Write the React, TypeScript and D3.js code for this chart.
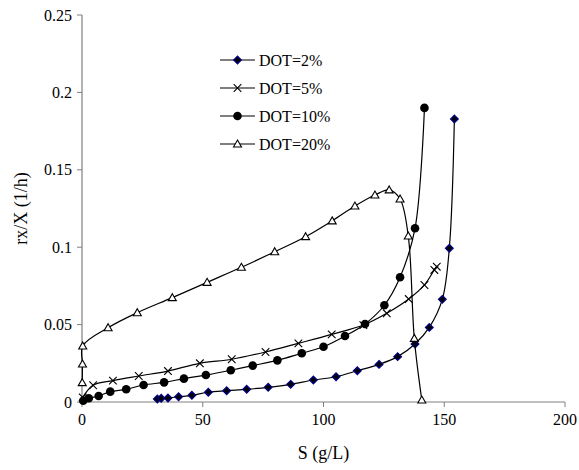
import React from "react";
import * as d3 from "d3";

const yTicks = [0, 0.05, 0.1, 0.15, 0.2, 0.25];
const yTickLabels = ["0", "0.05", "0.1", "0.15", "0.2", "0.25"];
const xTicks = [0, 50, 100, 150, 200];
const xTickLabels = ["0", "50", "100", "150", "200"];

const seriesNames = ["DOT=2%", "DOT=5%", "DOT=10%", "DOT=20%"];

const dot2S = [31.2, 32.8, 35.6, 40.0, 45.5, 52.3, 59.9, 68.2, 77.1, 86.4, 95.8, 105.2, 114.0, 123.0, 130.7, 137.9, 143.8, 149.2, 152.1, 154.2];
const dot2R = [0.0019, 0.0024, 0.0026, 0.0034, 0.0043, 0.0063, 0.0073, 0.0082, 0.0095, 0.0114, 0.0142, 0.0163, 0.0202, 0.0243, 0.0293, 0.0375, 0.0482, 0.0663, 0.0993, 0.1828];

const dot5S = [0.3, 4.6, 12.8, 23.5, 35.6, 48.8, 62.0, 76.0, 89.6, 103.4, 116.5, 126.2, 135.3, 141.8, 145.9, 146.9];
const dot5R = [0.003, 0.0108, 0.0138, 0.0168, 0.020, 0.025, 0.0276, 0.0323, 0.0379, 0.0437, 0.0497, 0.0573, 0.0665, 0.0756, 0.0853, 0.0874];

const dot10S = [0.5, 2.8, 6.9, 11.7, 18.3, 25.5, 34.0, 42.2, 51.3, 61.6, 70.7, 80.9, 91.0, 100.0, 108.9, 117.2, 125.2, 131.7, 137.9, 141.8];
const dot10R = [0.0008, 0.0024, 0.0039, 0.0067, 0.0082, 0.011, 0.0127, 0.0151, 0.0174, 0.0205, 0.0235, 0.0269, 0.0315, 0.0357, 0.0426, 0.0504, 0.0625, 0.0806, 0.1122, 0.19];

const dot20S = [0.1, 0.2, 0.3, 10.8, 22.9, 37.4, 51.8, 66.0, 79.8, 92.6, 103.6, 113.0, 121.3, 127.2, 131.7, 135.1, 137.6, 140.7];
const dot20R = [0.0125, 0.0245, 0.0362, 0.048, 0.0577, 0.0674, 0.0773, 0.087, 0.0971, 0.1068, 0.117, 0.1266, 0.1337, 0.137, 0.1311, 0.1072, 0.0411, 0.0013];

const FONT = "'Liberation Serif', 'Times New Roman', serif";
const W = 579, H = 470;
const x = d3.scaleLinear().domain([0, 200]).range([82, 565]);
const y = d3.scaleLinear().domain([0, 0.25]).range([402, 15]);

type Pt = [number, number];
const zip = (a: number[], b: number[]): Pt[] => a.map((v, i) => [v, b[i]]);

const seriesData: Pt[][] = [zip(dot2S, dot2R), zip(dot5S, dot5R), zip(dot10S, dot10R), zip(dot20S, dot20R)];
const markerKinds = ["diamond", "cross", "circle", "triangle"];

const line = d3
  .line<Pt>()
  .x((d) => x(d[0]))
  .y((d) => y(d[1]))
  .curve(d3.curveCatmullRom.alpha(0.5));

function Marker({ kind, cx, cy }: { kind: string; cx: number; cy: number }) {
  if (kind === "diamond") {
    const r = 3.8;
    return (
      <path
        d={`M${cx},${cy - r}L${cx + r},${cy}L${cx},${cy + r}L${cx - r},${cy}Z`}
        fill="#000000"
        stroke="#000080"
        strokeWidth={1.3}
      />
    );
  }
  if (kind === "cross") {
    const r = 3.8;
    return (
      <path
        d={`M${cx - r},${cy - r}L${cx + r},${cy + r}M${cx - r},${cy + r}L${cx + r},${cy - r}`}
        stroke="#000"
        strokeWidth={1.1}
        fill="none"
      />
    );
  }
  if (kind === "circle") {
    return <circle cx={cx} cy={cy} r={4.3} fill="#000" />;
  }
  const r = 4;
  return (
    <path
      d={`M${cx},${cy - r}L${cx + r},${cy + r * 0.75}L${cx - r},${cy + r * 0.75}Z`}
      fill="#fff"
      stroke="#000"
      strokeWidth={1.1}
    />
  );
}

export default function App() {
  const legendY = [60, 88, 116, 144];
  return (
    <svg width={W} height={H} style={{ position: "absolute", left: 0, top: 0, background: "#fff" }} fontFamily={FONT}>
      <rect width={W} height={H} fill="#fff" />
      {/* axes */}
      <line x1={x(0)} x2={x(0)} y1={y(0.25)} y2={y(0)} stroke="#808080" strokeWidth={1.2} />
      <line x1={x(0)} x2={x(200)} y1={y(0)} y2={y(0)} stroke="#808080" strokeWidth={1.2} />
      {yTicks.map((t, i) => (
        <g key={"y" + i}>
          <line x1={x(0) - 5} x2={x(0)} y1={y(t)} y2={y(t)} stroke="#808080" strokeWidth={1} />
          <text x={72} y={y(t)} dy="0.35em" textAnchor="end" fontSize={16} fill="#000">
            {yTickLabels[i]}
          </text>
        </g>
      ))}
      {xTicks.map((t, i) => (
        <g key={"x" + i}>
          <line x1={x(t)} x2={x(t)} y1={y(0)} y2={y(0) + 5} stroke="#808080" strokeWidth={1} />
          <text x={x(t)} y={425} textAnchor="middle" fontSize={16} fill="#000">
            {xTickLabels[i]}
          </text>
        </g>
      ))}
      <text x={(x(0) + x(200)) / 2} y={459} textAnchor="middle" fontSize={18} fill="#000">
        S (g/L)
      </text>
      <text
        transform={`translate(27,${(y(0) + y(0.25)) / 2}) rotate(-90)`}
        textAnchor="middle"
        fontSize={18}
        fill="#000"
      >
        rx/X (1/h)
      </text>
      {/* series */}
      {seriesData.map((pts, si) => (
        <g key={"s" + si}>
          <path d={line(pts) || ""} fill="none" stroke="#000" strokeWidth={1.2} />
          {pts.map((p, pi) => (
            <Marker key={pi} kind={markerKinds[si]} cx={x(p[0])} cy={y(p[1])} />
          ))}
        </g>
      ))}
      {/* legend */}
      {seriesNames.map((n, i) => (
        <g key={"l" + i}>
          <line x1={220} x2={255} y1={legendY[i]} y2={legendY[i]} stroke="#000" strokeWidth={1.2} />
          <Marker kind={markerKinds[i]} cx={237.5} cy={legendY[i]} />
          <text x={259} y={legendY[i]} dy="0.35em" fontSize={16} fill="#000">
            {n}
          </text>
        </g>
      ))}
    </svg>
  );
}
